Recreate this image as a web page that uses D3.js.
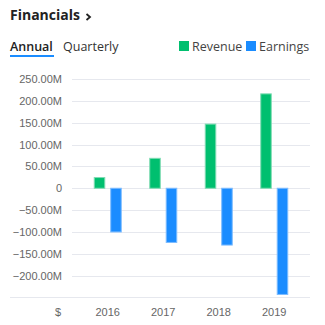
<!DOCTYPE html>
<html>
<head>
<meta charset="utf-8">
<script src="https://cdn.jsdelivr.net/npm/d3@7"></script>
<style>
  html, body { margin: 0; padding: 0; background: #fff; }
  #chart { width: 325px; height: 325px; }
</style>
</head>
<body>
<div id="chart"></div>
<script>
// ── Data ─────────────────────────────────────────────────────
const years = ['2016', '2017', '2018', '2019'];
const seriesNames = ['Revenue', 'Earnings'];
const revenue = [24.5e6, 68.5e6, 146.8e6, 216e6];
const earnings = [-100e6, -124e6, -130e6, -243e6];
const yTicks = [250e6, 200e6, 150e6, 100e6, 50e6, 0, -50e6, -100e6, -150e6, -200e6];

(function () {
  const d3 = window.d3;
  const W = 325, H = 325;
  const colors = { Revenue: '#00bf6f', Earnings: '#1a8cff' };
  const strokes = { Revenue: '#7fdcb3', Earnings: '#7cbcff' };
  const uiFont = "'Open Sans', 'Noto Sans', sans-serif";
  const axisFont = "'Liberation Sans', Arial, sans-serif";

  const svg = d3.select('#chart').append('svg')
    .attr('width', W).attr('height', H)
    .style('display', 'block');

  // ── Header ────────────────────────────────────────────────
  svg.append('text')
    .attr('x', 10).attr('y', 20)
    .attr('font-family', uiFont).attr('font-weight', 700)
    .attr('font-size', 14).attr('fill', '#222')
    .text('Financials');
  svg.append('path')
    .attr('d', 'M86.5,14 L90,17 L86.5,20')
    .attr('fill', 'none').attr('stroke', '#222')
    .attr('stroke-width', 1.8);

  svg.append('text')
    .attr('x', 10).attr('y', 51)
    .attr('font-family', uiFont).attr('font-weight', 600)
    .attr('font-size', 12.5).attr('fill', '#222')
    .text('Annual');
  svg.append('rect')
    .attr('x', 10).attr('y', 55).attr('width', 44).attr('height', 2)
    .attr('fill', '#1a8cff');
  svg.append('text')
    .attr('x', 63).attr('y', 51)
    .attr('font-family', uiFont)
    .attr('font-size', 12.5).attr('fill', '#333')
    .text('Quarterly');

  // Legend
  const legendX = { Revenue: 179, Earnings: 246 };
  seriesNames.forEach(s => {
    svg.append('rect')
      .attr('x', legendX[s]).attr('y', 41)
      .attr('width', 10).attr('height', 10)
      .attr('fill', colors[s]);
    svg.append('text')
      .attr('x', legendX[s] + 13).attr('y', 50.5)
      .attr('font-family', uiFont)
      .attr('font-size', 12.5).attr('fill', '#444')
      .text(s);
  });

  // ── Scales ────────────────────────────────────────────────
  const y = d3.scaleLinear().domain([-250e6, 250e6]).range([297.5, 79]);
  const x0 = d3.scaleBand().domain(years).range([80, 302]);
  const step = x0.bandwidth();
  const x1 = d3.scaleBand().domain(seriesNames)
    .range([step / 2 - 14, step / 2 + 14]).paddingInner(0.3);

  const fmt = v => v === 0 ? '0' : d3.format('.2f')(v / 1e6) + 'M';

  // Gridlines + tick labels
  const grid = svg.append('g');
  grid.selectAll('line').data(yTicks).join('line')
    .attr('x1', 72).attr('x2', 310)
    .attr('y1', d => Math.round(y(d)) + 0.5).attr('y2', d => Math.round(y(d)) + 0.5)
    .attr('stroke', '#e6e8ee').attr('stroke-width', 1);
  grid.selectAll('text').data(yTicks).join('text')
    .attr('x', 62).attr('y', d => y(d) + 4)
    .attr('text-anchor', 'end')
    .attr('font-family', axisFont).attr('font-size', 11)
    .attr('fill', '#666')
    .text(fmt);

  // Baseline axis
  svg.append('line')
    .attr('x1', 10).attr('x2', 310)
    .attr('y1', Math.round(y(-250e6)) - 0.5).attr('y2', Math.round(y(-250e6)) - 0.5)
    .attr('stroke', '#e6e8ee');

  // ── Bars ──────────────────────────────────────────────────
  const rows = years.map((yr, i) => ({ year: yr, Revenue: revenue[i], Earnings: earnings[i] }));
  const groups = svg.append('g').selectAll('g').data(rows).join('g')
    .attr('transform', d => `translate(${x0(d.year)},0)`);
  groups.selectAll('rect')
    .data(d => seriesNames.map(s => ({ key: s, value: d[s] })))
    .join('rect')
    .attr('x', d => x1(d.key) + 0.5)
    .attr('width', x1.bandwidth() - 1)
    .attr('y', d => y(Math.max(0, d.value)))
    .attr('height', d => Math.abs(y(d.value) - y(0)))
    .attr('fill', d => colors[d.key])
    .attr('stroke', d => strokes[d.key])
    .attr('stroke-width', 1);

  // X labels
  svg.append('g').selectAll('text').data(years).join('text')
    .attr('x', d => x0(d) + step / 2)
    .attr('y', 316)
    .attr('text-anchor', 'middle')
    .attr('font-family', axisFont).attr('font-size', 11)
    .attr('fill', '#666')
    .text(d => d);
  svg.append('text')
    .attr('x', 58).attr('y', 316)
    .attr('text-anchor', 'middle')
    .attr('font-family', axisFont).attr('font-size', 11)
    .attr('fill', '#666')
    .text('$');
})();
</script>
</body>
</html>
